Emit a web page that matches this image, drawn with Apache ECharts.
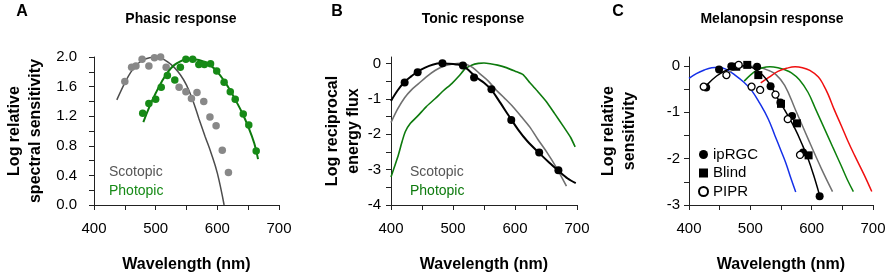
<!DOCTYPE html>
<html>
<head>
<meta charset="utf-8">
<script src="https://cdn.jsdelivr.net/npm/echarts@6/dist/echarts.min.js"></script>
<style>html,body{margin:0;padding:0;background:#fff}#c{width:893px;height:280px}</style>
</head>
<body>
<div id="c"></div>
<script>
// ---------- DATA ----------
// Panel A: Phasic response
const scotDotsX = [450,461,468,478,489,498,508,517,538,549,558,567,578,588,598,608,618];
const scotDotsY = [1.67,1.86,1.88,1.97,1.88,1.99,2.0,1.86,1.59,1.53,1.44,1.52,1.40,1.19,1.07,0.74,0.44];
const scotCurveX = [437,450,460,470,480,490,500,510,520,530,540,550,560,570,580,590,600,611];
const scotCurveY = [1.42,1.65,1.80,1.90,1.96,1.99,2.0,1.98,1.93,1.86,1.76,1.62,1.42,1.17,0.93,0.70,0.43,0.0];
const photDotsX = [479,489,500,509,519,531,540,549,560,570,579,589,599,611,621,629,642,651,663];
const photDotsY = [1.24,1.37,1.43,1.59,1.75,1.69,1.86,1.97,1.97,1.90,1.90,1.91,1.81,1.66,1.53,1.43,1.23,1.08,0.73];
const photCurveX = [480,490,500,510,520,530,540,550,560,570,580,590,600,610,620,630,640,650,660,666];
const photCurveY = [1.12,1.33,1.51,1.67,1.80,1.89,1.94,1.97,1.97,1.96,1.93,1.88,1.80,1.69,1.56,1.41,1.25,1.06,0.83,0.62];

// Panel B: Tonic response
const tonicDotsX = [422,443,483,516,534,562,594,639,670];
const tonicDotsY = [-0.54,-0.25,0.0,-0.06,-0.40,-0.73,-1.60,-2.52,-3.02];
const tonicCurveX = [400,410,422,433,443,455,467,480,492,505,516,527,538,550,562,575,590,605,620,640,655,670,685,698];
const tonicCurveY = [-1.06,-0.78,-0.52,-0.36,-0.23,-0.12,-0.04,0.0,-0.01,-0.03,-0.07,-0.22,-0.40,-0.55,-0.75,-1.08,-1.48,-1.87,-2.2,-2.55,-2.8,-3.03,-3.25,-3.38];
const scotBX = [400,411,422,433,444,457,471,485,500,512,522,532,543,557,570,583,597,610,624,637,651,667,683];
const scotBY = [-1.67,-1.28,-0.97,-0.75,-0.58,-0.38,-0.2,-0.08,-0.02,0,-0.03,-0.12,-0.29,-0.5,-0.76,-0.98,-1.23,-1.5,-1.8,-2.15,-2.5,-2.95,-3.47];
const photBX = [400,406,412,418,423,431,444,457,471,484,498,510,519,530,541,550,560,572,586,600,613,624,637,651,664,678,690,697];
const photBY = [-3.21,-2.9,-2.58,-2.2,-1.93,-1.7,-1.47,-1.22,-1.0,-0.78,-0.57,-0.35,-0.16,-0.05,0.0,0.01,-0.01,-0.05,-0.12,-0.22,-0.32,-0.55,-0.8,-1.09,-1.42,-1.78,-2.1,-2.36];

// Panel C: Melanopsin response
const blueX = [400,412,425,437,448,460,475,490,502,515,529,540,550,558,566,574];
const blueY = [-0.27,-0.17,-0.09,-0.04,-0.03,-0.07,-0.2,-0.36,-0.53,-0.8,-1.14,-1.5,-1.83,-2.1,-2.42,-2.72];
const grayCX = [455,470,485,500,515,530,541,556,573,594,616,634];
const grayCY = [-0.24,-0.1,-0.03,-0.01,-0.03,-0.1,-0.18,-0.42,-0.93,-1.57,-2.22,-2.71];
const greenCX = [490,500,510,520,532,545,555,567,580,594,607,621,635,648,658,668];
const greenCY = [-0.33,-0.2,-0.1,-0.04,-0.02,-0.04,-0.08,-0.15,-0.3,-0.57,-0.95,-1.36,-1.77,-2.15,-2.45,-2.71];
const redCX = [517,530,545,560,573,585,597,611,620,627,637,648,659,670,686,698];
const redCY = [-0.37,-0.25,-0.12,-0.05,-0.02,-0.04,-0.1,-0.24,-0.43,-0.62,-0.95,-1.28,-1.62,-1.93,-2.36,-2.71];
const fitCX = [430,445,460,475,490,505,520,533,545,558,573,584,594,603,612];
const fitCY = [-0.4,-0.22,-0.1,-0.03,0,-0.05,-0.2,-0.42,-0.71,-1.0,-1.36,-1.68,-2.0,-2.35,-2.75];
const iprgcX = [428,449,469,511,533,549,568,586,613];
const iprgcY = [-0.47,-0.08,-0.01,-0.02,-0.44,-0.79,-1.08,-1.87,-2.81];
const blindX = [477,495,513,550,576,595];
const blindY = [-0.02,0.02,-0.2,-0.82,-1.24,-1.93];
const piprX = [424,461,481,502,516,541,561,581];
const piprY = [-0.45,-0.2,0.02,-0.45,-0.52,-0.62,-1.15,-1.92];

// Ticks and labels
const xTicks = [400,450,500,550,600,650,700];
const xLabels = [400,500,600,700];
const yTicksA = [0,0.2,0.4,0.6,0.8,1.0,1.2,1.4,1.6,1.8,2.0];
const yLabelsA = [0,0.4,0.8,1.2,1.6,2.0];
const yTicksB = [-4,-3.5,-3,-2.5,-2,-1.5,-1,-0.5,0];
const yLabelsB = [-4,-3,-2,-1,0];
const yTicksC = [-3,-2.5,-2,-1.5,-1,-0.5,0];
const yLabelsC = [-3,-2,-1,0];

const panelLetters = ['A','B','C'];
const panelTitles = ['Phasic response','Tonic response','Melanopsin response'];
const yNames = ['Log relative\nspectral sensitivity','Log reciprocal\nenergy flux','Log relative\nsensitivity'];
const xName = 'Wavelength (nm)';

// ---------- CHART ----------
const FONT = '"Liberation Sans", Arial, Helvetica, sans-serif';
const AX = '#222';
const GREEN = '#168a16';
const GREEN_LINE = '#0d7a0d';

function pts(xs, ys){ return xs.map((x,i)=>[x, ys[i]]); }
function line(name, xs, ys, idx, color, width, smooth, z){
  return {type:'line', name, xAxisIndex:idx, yAxisIndex:idx, data:pts(xs,ys), symbol:'none', showSymbol:false,
    smooth: smooth, lineStyle:{color, width}, silent:true, z:z||2, animation:false};
}
function scatter(name, xs, ys, idx, symbol, size, fill, border, z){
  return {type:'scatter', name, xAxisIndex:idx, yAxisIndex:idx, data:pts(xs,ys), symbol, symbolSize:size,
    itemStyle:{color:fill, borderColor:border||fill, borderWidth: border?1.3:0, opacity:1}, silent:true, z:z||3, animation:false};
}

const grids = [
  {left:94, top:57, width:185, height:148},
  {left:391, top:57, width:186, height:148},
  {left:689, top:57, width:184, height:148}
];
const yRanges = [[0,2.0],[-4,0.18],[-3,0.19]];
const yTicks = [yTicksA, yTicksB, yTicksC];
const yLabels = [yLabelsA, yLabelsB, yLabelsC];
const yLabelMargin = [17, 10, 9];
const yNameGap = [48, 26, 49];

const option = {
  backgroundColor:'#fff',
  animation:false,
  grid: grids.map(g => Object.assign({containLabel:false, outerBoundsMode:'none'}, g)),
  xAxis: grids.map((g,i)=>({
    type:'value', gridIndex:i, min:400, max:700,
    axisLine:{show:true, onZero:false, lineStyle:{color:AX, width:1}},
    axisTick:{show:true, inside:false, length:5, customValues:xTicks, lineStyle:{color:AX}},
    axisLabel:{customValues:xLabels, margin:16, fontSize:15, fontFamily:FONT, color:'#000'},
    splitLine:{show:false},
    name:xName, nameLocation:'middle', nameGap:52,
    nameTextStyle:{fontSize:16, fontWeight:'bold', fontFamily:FONT, color:'#000'}
  })),
  yAxis: grids.map((g,i)=>({
    type:'value', gridIndex:i, min:yRanges[i][0], max:yRanges[i][1],
    axisLine:{show:true, onZero:false, lineStyle:{color:AX, width:1}},
    axisTick:{show:true, inside:false, length:5, customValues:yTicks[i], lineStyle:{color:AX}},
    axisLabel:{customValues:yLabels[i], margin:yLabelMargin[i], fontSize:15, fontFamily:FONT, color:'#000',
      formatter: v => i===0 ? Number(v).toFixed(1) : String(Math.round(v))},
    splitLine:{show:false},
    name:yNames[i], nameLocation:'middle', nameGap:yNameGap[i],
    nameTextStyle:{fontSize:16, fontWeight:'bold', fontFamily:FONT, color:'#000', lineHeight:21}
  })),
  legend:{
    data:[{name:'ipRGC', icon:'circle'},{name:'Blind', icon:'rect'},{name:'PIPR', icon:'circle'}],
    orient:'vertical', left:698, top:147, padding:0, itemWidth:9, itemHeight:9, itemGap:3.5,
    selectedMode:false, textStyle:{fontSize:15, fontFamily:FONT, color:'#000'}
  },
  graphic: [].concat(
    panelLetters.map((t,i)=>({type:'text', x:[22,337,618][i], y:12, silent:true,
      style:{text:t, align:'center', verticalAlign:'middle', font:'bold 16px '+FONT, fill:'#000'}})),
    panelTitles.map((t,i)=>({type:'text', x:[181,473,772][i], y:19, silent:true,
      style:{text:t, align:'center', verticalAlign:'middle', font:'bold 14px '+FONT, fill:'#000'}})),
    [
      {type:'text', x:109, y:172, silent:true, style:{text:'Scotopic', align:'left', verticalAlign:'middle', font:'14px '+FONT, fill:'#555'}},
      {type:'text', x:109, y:191, silent:true, style:{text:'Photopic', align:'left', verticalAlign:'middle', font:'14px '+FONT, fill:GREEN}},
      {type:'text', x:410, y:172, silent:true, style:{text:'Scotopic', align:'left', verticalAlign:'middle', font:'14px '+FONT, fill:'#555'}},
      {type:'text', x:410, y:191, silent:true, style:{text:'Photopic', align:'left', verticalAlign:'middle', font:'14px '+FONT, fill:GREEN_LINE}}
    ]
  ),
  series: [
    // A
    line('scotCurveA', scotCurveX, scotCurveY, 0, '#4d4d4d', 1.5, 0.4, 2),
    scatter('scotDotsA', scotDotsX, scotDotsY, 0, 'circle', 7.5, '#888888', null, 3),
    line('photCurveA', photCurveX, photCurveY, 0, GREEN_LINE, 2, 0.4, 4),
    scatter('photDotsA', photDotsX, photDotsY, 0, 'circle', 7.5, GREEN, null, 5),
    // B
    line('photB', photBX, photBY, 1, GREEN_LINE, 1.6, 0.2, 2),
    line('scotB', scotBX, scotBY, 1, '#707070', 1.6, 0.3, 3),
    line('tonicCurve', tonicCurveX, tonicCurveY, 1, '#000', 2, 0.3, 4),
    scatter('tonicDots', tonicDotsX, tonicDotsY, 1, 'circle', 8, '#000', null, 5),
    // C
    line('blueC', blueX, blueY, 2, '#1530e8', 1.5, 0.4, 2),
    line('grayC', grayCX, grayCY, 2, '#707070', 1.5, 0.4, 2),
    line('greenC', greenCX, greenCY, 2, '#0d800d', 1.5, 0.4, 2),
    line('redC', redCX, redCY, 2, '#f01010', 1.5, 0.4, 2),
    line('fitC', fitCX, fitCY, 2, '#000', 1.5, 0.4, 3),
    scatter('Blind', blindX, blindY, 2, 'rect', 8, '#000', null, 5),
    scatter('ipRGC', iprgcX, iprgcY, 2, 'circle', 8, '#000', null, 5),
    scatter('PIPR', piprX, piprY, 2, 'circle', 7, '#fff', '#000', 6)
  ]
};

const chart = echarts.init(document.getElementById('c'), null, {renderer:'canvas', width:893, height:280});
chart.setOption(option);
</script>
</body>
</html>
